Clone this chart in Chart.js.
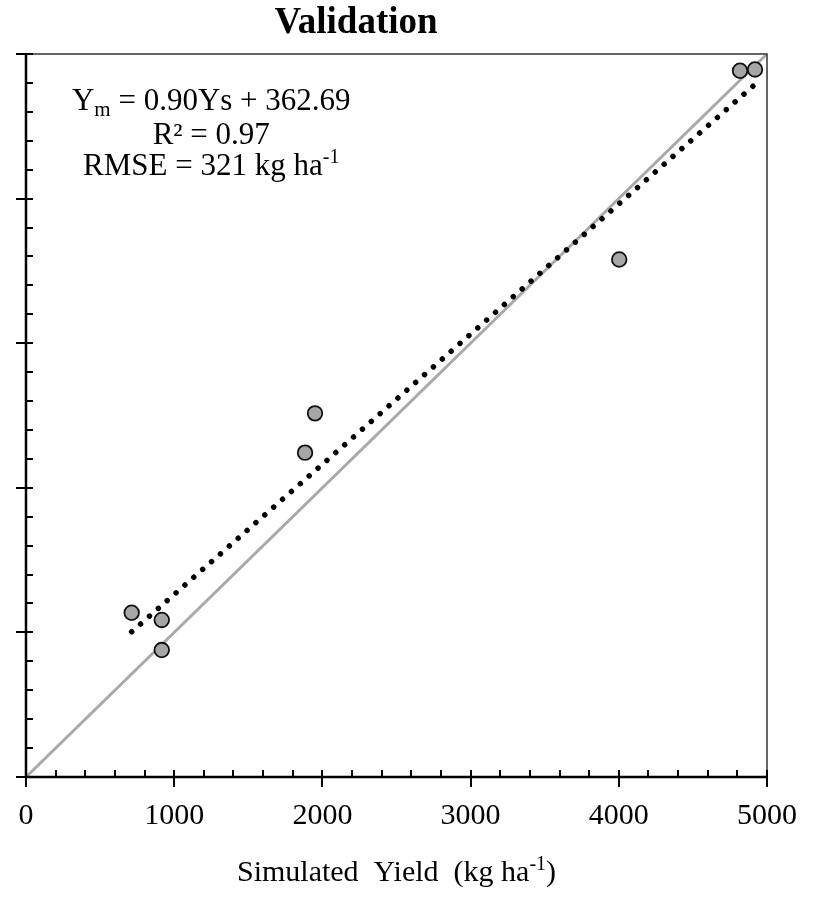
<!DOCTYPE html>
<html>
<head>
<meta charset="utf-8">
<script src="https://cdn.jsdelivr.net/npm/chart.js@4/dist/chart.umd.min.js"></script>
<style>
  body { margin: 0; background: #fff; }
  #graphique { display: block; }
</style>
</head>
<body>
<canvas id="graphique" width="815" height="897"></canvas>
<script>
// rendement simulé et mesuré (kg/ha) pour la validation
const simule = [713, 916, 916, 1883, 1950, 4003, 4818, 4919];
const mesure = [1136, 1086, 878, 2243, 2515, 3579, 4884, 4893];

// droite de régression affichée dans le texte
const pente = 0.90;
const ordonnee = 362.69;
const r2 = "0.97";
const rmse = "321";

// bornes et graduations des axes
const axeMin = 0;
const axeMax = 5000;
const pasMajeur = 1000;
const pasMineur = 200;

const police = '"Liberation Serif", "Times New Roman", serif';

const points = simule.map((s, i) => ({ x: s, y: mesure[i] }));
const xDebut = Math.min(...simule);
const xFin = Math.max(...simule);
const regression = [
  { x: xDebut, y: pente * xDebut + ordonnee },
  { x: xFin, y: pente * xFin + ordonnee }
];
const unPourUn = [{ x: axeMin, y: axeMin }, { x: axeMax, y: axeMax }];

// écrire un texte en plusieurs morceaux (indices, exposants) centré sur cx
const ecrireLigne = (ctx, morceaux, cx, base) => {
  let total = 0;
  morceaux.forEach(m => {
    ctx.font = `${m.taille}px ${police}`;
    m.w = ctx.measureText(m.t).width;
    total += m.w;
  });
  let xx = cx - total / 2;
  morceaux.forEach(m => {
    ctx.font = `${m.taille}px ${police}`;
    ctx.fillText(m.t, xx, base + m.dy);
    xx += m.w;
  });
};

// cadre, graduations, titres et équation
const habillage = {
  id: 'habillage',
  afterDraw(chart) {
    const { ctx, chartArea: { left, right, top, bottom }, scales: { x, y } } = chart;
    ctx.save();

    // bord haut et droit fins
    ctx.strokeStyle = '#333';
    ctx.lineWidth = 1.5;
    ctx.beginPath();
    ctx.moveTo(left, top);
    ctx.lineTo(right, top);
    ctx.lineTo(right, bottom);
    ctx.stroke();

    // axes gauche et bas épais
    ctx.strokeStyle = '#000';
    ctx.lineWidth = 2.5;
    ctx.beginPath();
    ctx.moveTo(left, top);
    ctx.lineTo(left, bottom);
    ctx.lineTo(right, bottom);
    ctx.stroke();

    // graduations
    ctx.lineWidth = 2;
    for (let v = axeMin; v <= axeMax; v += pasMineur) {
      const majeur = v % pasMajeur === 0;
      const px = Math.round(x.getPixelForValue(v));
      const py = Math.round(y.getPixelForValue(v));
      ctx.beginPath();
      ctx.moveTo(px, majeur ? bottom + 10 : bottom);
      ctx.lineTo(px, bottom - 7);
      ctx.moveTo(majeur ? left - 10 : left, py);
      ctx.lineTo(left + 7, py);
      ctx.stroke();
    }

    // titre
    ctx.fillStyle = '#000';
    ctx.textAlign = 'center';
    ctx.textBaseline = 'alphabetic';
    ctx.font = `bold 37px ${police}`;
    ctx.fillText('Validation', left + 330, 33);

    ctx.textAlign = 'left';
    // titre de l'axe x
    ecrireLigne(ctx, [
      { t: 'Simulated  Yield  (kg ha', taille: 30, dy: 0 },
      { t: '-1', taille: 20, dy: -11 },
      { t: ')', taille: 30, dy: 0 }
    ], (left + right) / 2, bottom + 104);

    // équation, R² et RMSE
    const cx = x.getPixelForValue(1250);
    ecrireLigne(ctx, [
      { t: 'Y', taille: 31, dy: 0 },
      { t: 'm', taille: 21, dy: 6 },
      { t: ` = ${pente.toFixed(2)}Ys + ${ordonnee}`, taille: 31, dy: 0 }
    ], cx, y.getPixelForValue(4610));
    ecrireLigne(ctx, [
      { t: `R² = ${r2}`, taille: 31, dy: 0 }
    ], cx, y.getPixelForValue(4375));
    ecrireLigne(ctx, [
      { t: `RMSE = ${rmse} kg ha`, taille: 31, dy: 0 },
      { t: '-1', taille: 20, dy: -12 }
    ], cx, y.getPixelForValue(4160));

    ctx.restore();
  }
};

const ctx = document.getElementById('graphique').getContext('2d');
const config = {
  type: 'scatter',
  data: {
    datasets: [
      {
        label: 'Observé',
        data: points,
        backgroundColor: '#a6a6a6',
        borderColor: '#111',
        borderWidth: 1.8,
        pointRadius: 7.3,
        order: 0
      },
      {
        label: 'Régression',
        type: 'line',
        data: regression,
        borderColor: '#000',
        borderWidth: 5.5,
        borderDash: [0.01, 11.8],
        borderCapStyle: 'round',
        pointRadius: 0,
        fill: false,
        order: 1
      },
      {
        label: '1:1',
        type: 'line',
        data: unPourUn,
        borderColor: '#a9a9a9',
        borderWidth: 3,
        pointRadius: 0,
        fill: false,
        order: 2
      }
    ]
  },
  options: {
    responsive: false,
    animation: false,
    layout: { padding: { left: 26, right: 48, top: 54, bottom: 0 } },
    plugins: {
      legend: { display: false },
      tooltip: { enabled: false }
    },
    scales: {
      x: {
        type: 'linear',
        min: axeMin,
        max: axeMax,
        ticks: {
          stepSize: pasMajeur,
          color: '#000',
          padding: 21,
          font: { family: police, size: 30 },
          callback: (v) => String(v)
        },
        grid: { display: false, drawTicks: false },
        border: { display: false },
        afterFit: (scale) => {
          scale.height = 120;
          scale.paddingLeft = 0;
          scale.paddingRight = 0;
        }
      },
      y: {
        type: 'linear',
        min: axeMin,
        max: axeMax,
        ticks: { stepSize: pasMajeur, display: false },
        grid: { display: false, drawTicks: false },
        border: { display: false },
        afterFit: (scale) => {
          scale.width = 0;
          scale.paddingTop = 0;
          scale.paddingBottom = 0;
        }
      }
    }
  },
  plugins: [habillage]
};
const monGraphique = new Chart(ctx, config);
</script>
</body>
</html>
